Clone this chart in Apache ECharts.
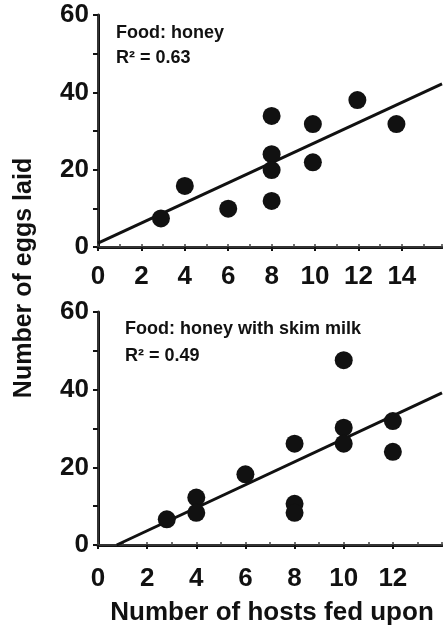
<!DOCTYPE html>
<html><head><meta charset="utf-8">
<script src="https://cdn.jsdelivr.net/npm/echarts@6/dist/echarts.min.js"></script>
<style>html,body{margin:0;padding:0;background:#fff}#c{width:443px;height:628px}</style>
</head><body><div id="c"></div>
<script>
// Top panel: Food: honey
const topX = [2.9, 4, 6, 8, 8, 8, 8, 9.9, 9.9, 11.95, 13.75];
const topY = [7.4, 15.8, 9.9, 33.9, 24.0, 19.9, 11.9, 31.8, 21.9, 38.0, 31.8];
const topFitX = [0, 15.85];
const topFitY = [1.0, 42.2];
// Bottom panel: Food: honey with skim milk
const botX = [2.8, 4, 4, 6, 8, 8, 8, 10, 10, 10, 12, 12];
const botY = [6.6, 12.2, 8.3, 18.2, 26.1, 10.6, 8.3, 47.6, 30.2, 26.1, 31.9, 24.0];
const botFitX = [0.76, 14];
const botFitY = [0, 39.2];
const yTicks = [0, 20, 40, 60];
const topTitle = 'Food: honey', topR2 = 'R² = 0.63';
const botTitle = 'Food: honey with skim milk', botR2 = 'R² = 0.49';
const yTitle = 'Number of eggs laid', xTitle = 'Number of hosts fed upon';

const pairs = (xs, ys) => xs.map((x, i) => [x, ys[i]]);
const FONT = 'Liberation Sans, Arial, sans-serif';
const ink = '#111';
const lab = {fontFamily: FONT, fontWeight: 'bold', fontSize: 26, color: ink};

function xAxes(gi, max, labelMargin) {
  return [
    {type: 'value', gridIndex: gi, min: 0, max: max, interval: 2, position: 'bottom',
     axisLine: {lineStyle: {color: ink, width: 3}},
     axisTick: {show: true, inside: false, length: 4, lineStyle: {color: ink, width: 2}},
     axisLabel: Object.assign({margin: labelMargin, showMaxLabel: false}, lab),
     splitLine: {show: false}},
    {type: 'value', gridIndex: gi, min: 0, max: max, interval: 1, position: 'top',
     axisLine: {lineStyle: {color: '#333', width: 2}},
     axisTick: {show: true, inside: false, length: 3, lineStyle: {color: '#444', width: 1.5}},
     axisLabel: {show: false}, splitLine: {show: false}}
  ];
}
function yAxes(gi) {
  return [
    {type: 'value', gridIndex: gi, min: 0, max: 60, interval: 10, position: 'left',
     axisLine: {lineStyle: {color: ink, width: 3}},
     axisTick: {show: true, inside: false, length: 5, lineStyle: {color: ink, width: 2}},
     axisLabel: Object.assign({margin: 9, formatter: v => yTicks.includes(v) ? String(v) : ''}, lab),
     splitLine: {show: false}},
    {type: 'value', gridIndex: gi, min: 0, max: 60, interval: 10, position: 'right',
     axisLine: {lineStyle: {color: '#333', width: 2}},
     axisTick: {show: false}, axisLabel: {show: false}, splitLine: {show: false}}
  ];
}

const chart = echarts.init(document.getElementById('c'), null, {renderer: 'canvas'});
chart.setOption({
  animation: false,
  backgroundColor: '#fff',
  grid: [
    {left: 98, top: 15, width: 344, height: 232},
    {left: 98, top: 312, width: 344, height: 233}
  ],
  xAxis: [].concat(xAxes(0, 15.85, 17), xAxes(1, 14, 21)),
  yAxis: [].concat(yAxes(0), yAxes(1)),
  series: [
    {type: 'line', xAxisIndex: 0, yAxisIndex: 0, data: pairs(topFitX, topFitY), symbol: 'none',
     lineStyle: {color: ink, width: 3}, z: 3},
    {type: 'scatter', xAxisIndex: 0, yAxisIndex: 0, data: pairs(topX, topY), symbolSize: 18,
     itemStyle: {color: ink, opacity: 1}, z: 4},
    {type: 'line', xAxisIndex: 2, yAxisIndex: 2, data: pairs(botFitX, botFitY), symbol: 'none',
     lineStyle: {color: ink, width: 3}, z: 3},
    {type: 'scatter', xAxisIndex: 2, yAxisIndex: 2, data: pairs(botX, botY), symbolSize: 18,
     itemStyle: {color: ink, opacity: 1}, z: 4}
  ],
  graphic: [
    {type: 'text', left: 116, top: 24, style: {text: topTitle, font: 'bold 18px ' + FONT, fill: ink}},
    {type: 'text', left: 116, top: 49, style: {text: topR2, font: 'bold 18px ' + FONT, fill: ink}},
    {type: 'text', left: 125, top: 320, style: {text: botTitle, font: 'bold 18px ' + FONT, fill: ink}},
    {type: 'text', left: 125, top: 347, style: {text: botR2, font: 'bold 18px ' + FONT, fill: ink}},
    {type: 'text', x: 24, y: 278, rotation: Math.PI / 2,
     style: {text: yTitle, font: 'bold 25px ' + FONT, fill: ink, align: 'center', verticalAlign: 'middle'}},
    {type: 'text', x: 272, y: 613,
     style: {text: xTitle, font: 'bold 26px ' + FONT, fill: ink, align: 'center', verticalAlign: 'middle'}}
  ]
});
</script></body></html>
